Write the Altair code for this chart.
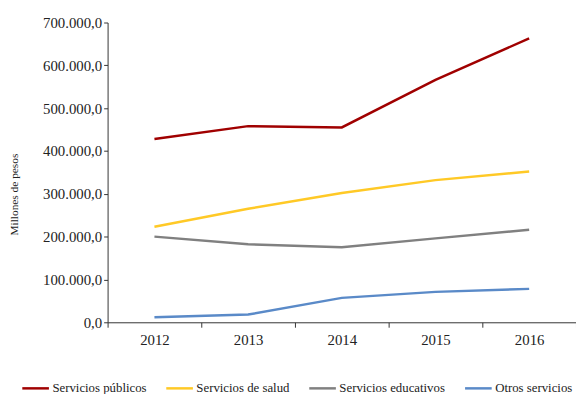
import altair as alt
import pandas as pd

years = ["2012", "2013", "2014", "2015", "2016"]
series = ["Servicios públicos", "Servicios de salud", "Servicios educativos", "Otros servicios"]
publicos = [428000, 458000, 455000, 566000, 663000]
salud = [223000, 265000, 302000, 332000, 352000]
educativos = [200000, 182000, 175000, 196000, 216000]
otros = [12000, 18000, 57000, 71000, 78000]
colors = ["#A00000", "#FFC926", "#808080", "#5A8AC8"]
y_ticks = [0, 100000, 200000, 300000, 400000, 500000, 600000, 700000]

rows = []
for name, vals in zip(series, [publicos, salud, educativos, otros]):
    for y, v in zip(years, vals):
        rows.append({"year": y, "serie": name, "value": v})
df = pd.DataFrame(rows)

font = "Liberation Serif"

chart = alt.Chart(df).mark_line(strokeWidth=2.5).encode(
    x=alt.X("year:O", bandPosition=0.5,
            scale=alt.Scale(type="band", paddingInner=0, paddingOuter=0),
            axis=alt.Axis(title=None, labelAngle=0, tickBand="extent", labelFontSize=15,
                          labelFont=font, labelPadding=6, tickSize=5)),
    y=alt.Y("value:Q", scale=alt.Scale(domain=[0, 700000], nice=False),
            axis=alt.Axis(title="Millones de pesos", format=",.1f",
                          values=y_ticks, labelOverlap=False, labelFlush=False,
                          labelFont=font, titleFont=font,
                          labelFontSize=15, titleFontSize=11.5, titleFontWeight="normal",
                          titleX=-89, titleY=174, tickSize=4, grid=False)),
    color=alt.Color("serie:N", sort=series,
                    scale=alt.Scale(domain=series, range=colors),
                    legend=alt.Legend(title=None, orient="none", direction="horizontal",
                                      legendX=-88, legendY=356, symbolType="stroke",
                                      symbolSize=729, symbolStrokeWidth=2.5, labelFont=font,
                                      labelFontSize=13, columnPadding=14, labelOffset=2)),
).properties(
    width=475, height=304,
    autosize=alt.AutoSizeParams(type="none"),
    padding={"left": 101, "top": 12, "right": 0, "bottom": 70},
).configure(
    locale={"number": {"decimal": ",", "thousands": ".", "grouping": [3], "currency": ["$", ""]}},
).configure_axis(
    labelColor="#222222", titleColor="#222222",
    domainColor="#333333", tickColor="#333333", grid=False,
).configure_legend(
    labelColor="#222222",
).configure_view(stroke=None)

chart.save("out.html", embed_options={"renderer": "svg", "actions": False})
